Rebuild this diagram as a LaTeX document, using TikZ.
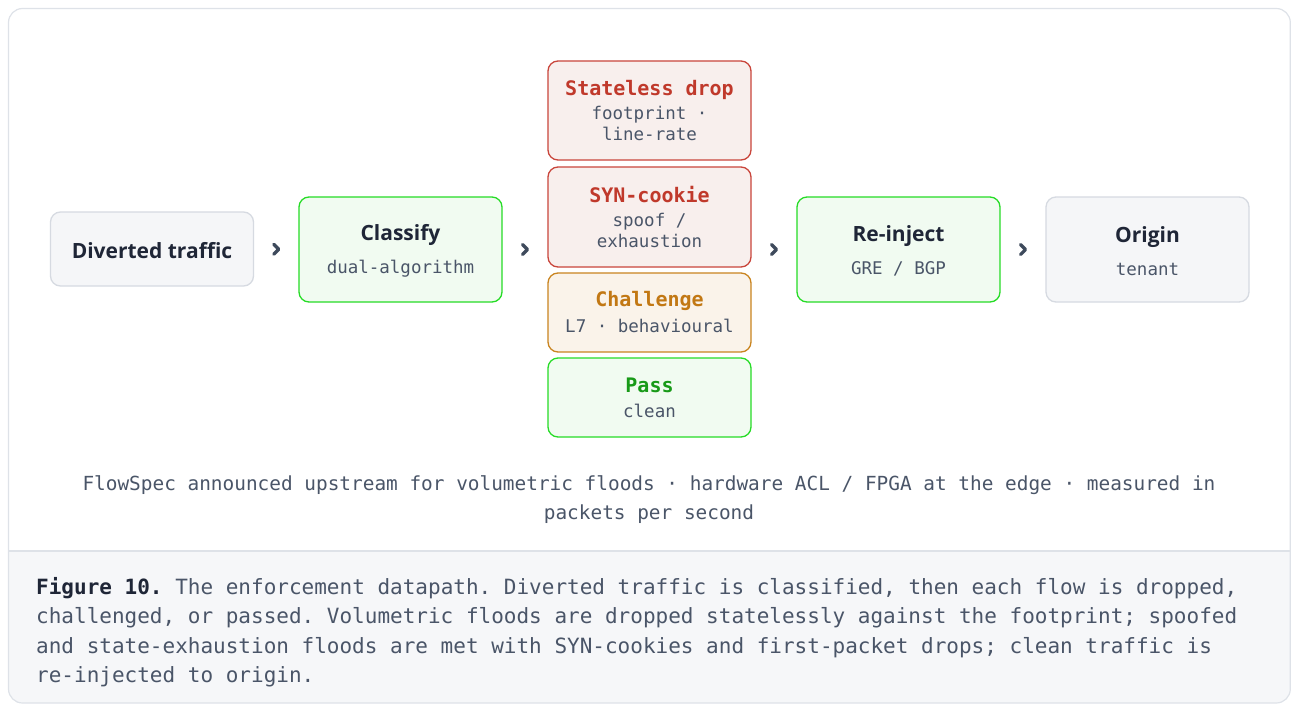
\documentclass[tikz,border=0pt]{standalone}
\usepackage{fontspec}
\setmainfont{Open Sans}
\setmonofont{DejaVu Sans Mono}
\usetikzlibrary{calc}

\definecolor{ink}{HTML}{1F2637}
\definecolor{slate}{HTML}{4A5568}
\definecolor{chevron}{HTML}{3E4A5C}
\definecolor{framegray}{HTML}{DEE2E8}
\definecolor{capbg}{HTML}{F6F7F9}
\definecolor{boxline}{HTML}{D6DAE1}
\definecolor{boxfill}{HTML}{F5F6F8}
\definecolor{okline}{HTML}{26DC26}
\definecolor{okfill}{HTML}{F1FBF1}
\definecolor{oktext}{HTML}{189A18}
\definecolor{dropline}{HTML}{C9453B}
\definecolor{dropfill}{HTML}{F8EFED}
\definecolor{droptext}{HTML}{C0392B}
\definecolor{warnline}{HTML}{C9841F}
\definecolor{warnfill}{HTML}{FAF3EA}
\definecolor{warntext}{HTML}{C27814}

\newcommand\subfont{\fontsize{17.5}{21}\selectfont\ttfamily}
\newcommand\headsans[1]{{\rmfamily\fontsize{21}{24}\selectfont\bfseries\color{ink}\rule{0pt}{19pt}#1}}
\newcommand\headmono[2]{{\fontsize{20}{24}\selectfont\bfseries\color{#1}#2}}

\begin{document}
\begin{tikzpicture}[x=1pt, y=-1pt,
        box/.style={draw, rounded corners=10pt, line width=1.3pt, minimum width=203pt,
            align=center, inner sep=0pt, font=\subfont, text=slate},
        plainbox/.style={box, draw=boxline, fill=boxfill},
        okbox/.style={box, draw=okline, fill=okfill},
        dropbox/.style={box, draw=dropline, fill=dropfill},
        warnbox/.style={box, draw=warnline, fill=warnfill},
        chev/.style={draw=chevron, line width=3.2pt, line cap=round, line join=round}]
    \useasboundingbox (0,0) rectangle (1291,704);

    % card and caption strip
    \fill[white, rounded corners=14pt] (8.5,8.5) rectangle (1290.3,703);
    \begin{scope}
        \clip[rounded corners=14pt] (8.5,8.5) rectangle (1290.3,703);
        \fill[capbg] (0,551) rectangle (1291,704);
    \end{scope}
    \draw[framegray, line width=1.2pt] (8.5,551) -- (1290.3,551);
    \draw[framegray, line width=1.2pt, rounded corners=14pt] (8.5,8.5) rectangle (1290.3,703);

    \node[plainbox, minimum height=74pt]  (div)  at (152,249)    {\headsans{Diverted traffic}};
    \node[okbox, minimum height=105pt]    (cls)  at (400.5,249.5) {\headsans{Classify}\\[12pt]dual-algorithm};

    \node[dropbox, minimum height=99pt]   (sd)   at (649.5,110.5) {\headmono{droptext}{Stateless drop}\\[3pt]footprint ·\\line-rate};
    \node[dropbox, minimum height=100pt]  (syn)  at (649.5,217)   {\headmono{droptext}{SYN-cookie}\\[3pt]spoof /\\exhaustion};
    \node[warnbox, minimum height=79pt]   (chl)  at (649.5,312.5) {\headmono{warntext}{Challenge}\\[5pt]L7 · behavioural};
    \node[okbox, minimum height=79pt]     (pass) at (649.5,397.5) {\headmono{oktext}{Pass}\\[4pt]clean};

    \node[okbox, minimum height=105pt]    (rei)  at (898.5,249.5) {\headsans{Re-inject}\\[12pt]GRE / BGP};
    \node[plainbox, minimum height=105pt] (ori)  at (1147.5,249.5) {\headsans{Origin}\\[12pt]tenant};

    \draw[chev] ($(div.east)!.5!(cls.west)$) ++(-2.5,-5) -- ++(5,5) -- ++(-5,5);
    \draw[chev] ($(cls.east)!.5!(syn.west |- cls.east)$) ++(-2.5,-5) -- ++(5,5) -- ++(-5,5);
    \draw[chev] ($(syn.east |- rei.west)!.5!(rei.west)$) ++(-2.5,-5) -- ++(5,5) -- ++(-5,5);
    \draw[chev] ($(rei.east)!.5!(ori.west)$) ++(-2.5,-5) -- ++(5,5) -- ++(-5,5);

    \node[align=center, text=slate, inner sep=0pt,
        font=\fontsize{19.4}{29}\selectfont\ttfamily] (note) at (649,500)
        {FlowSpec announced upstream for volumetric floods · hardware ACL / FPGA at the edge · measured in\\
         packets per second};

    \node[anchor=north west, align=left, text=slate, inner sep=0pt,
        font=\fontsize{21}{29.4}\selectfont\ttfamily] (caption) at (36,577)
        {{\bfseries\color{ink}Figure 10.} The enforcement datapath. Diverted traffic is classified, then each flow is dropped,\\
         challenged, or passed. Volumetric floods are dropped statelessly against the footprint; spoofed\\
         and state-exhaustion floods are met with SYN-cookies and first-packet drops; clean traffic is\\
         re-injected to origin.};
\end{tikzpicture}
\end{document}
